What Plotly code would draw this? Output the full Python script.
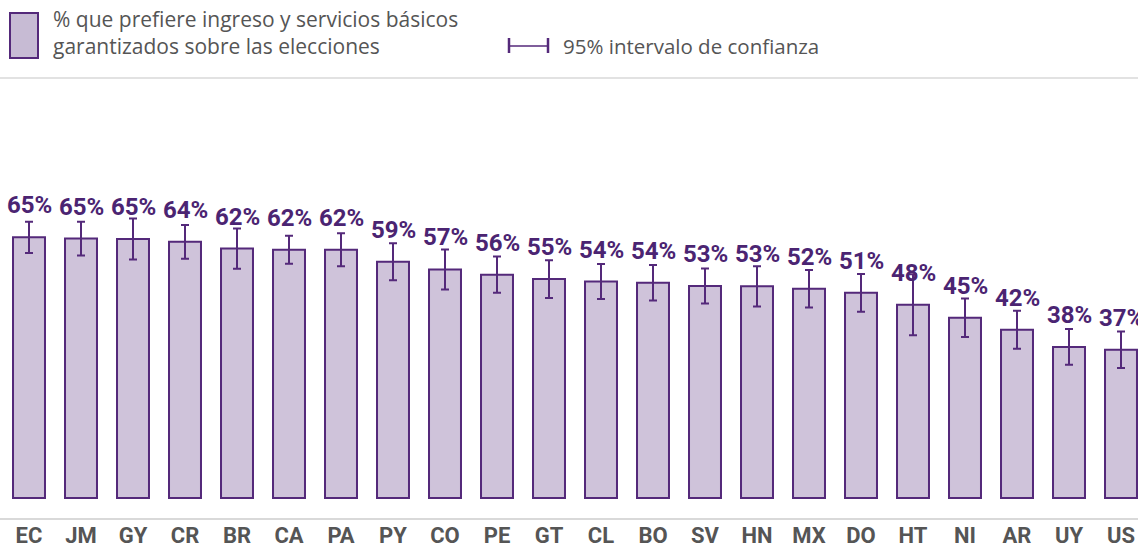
import plotly.graph_objects as go

countries = ["EC", "JM", "GY", "CR", "BR", "CA", "PA", "PY", "CO", "PE", "GT",
             "CL", "BO", "SV", "HN", "MX", "DO", "HT", "NI", "AR", "UY", "US"]
values = [64.9, 64.6, 64.5, 63.8, 62.1, 61.8, 61.8, 58.8, 56.9, 55.6, 54.5,
          53.9, 53.6, 52.8, 52.7, 52.1, 51.1, 48.1, 44.9, 41.9, 37.6, 36.9]
errors = [3.9, 4.2, 5.1, 4.2, 5.0, 3.5, 4.1, 4.6, 5.0, 4.5, 4.7,
          4.35, 4.4, 4.35, 5.0, 4.65, 4.7, 7.6, 4.8, 4.75, 4.45, 4.55]
labels = ["65%", "65%", "65%", "64%", "62%", "62%", "62%", "59%", "57%", "56%", "55%",
          "54%", "54%", "53%", "53%", "52%", "51%", "48%", "45%", "42%", "38%", "37%"]

W, H = 1138, 545
T, B = 78, 518  # plot area top / bottom in px
PURPLE = "#54297a"
LABEL = "#4b2472"
FILL = "#cfc3da"
GRAY = "#555555"

def py(px):
    return (B - px) / (B - T)

def pxx(px):
    return px / W

fig = go.Figure()
fig.add_trace(go.Bar(
    x=list(range(len(countries))), y=values, width=0.615,
    marker=dict(color=FILL, line=dict(color=PURPLE, width=2)),
    error_y=dict(type="data", array=errors, visible=True, color=PURPLE,
                 thickness=2, width=4),
    showlegend=False, hoverinfo="skip",
))

for i, (v, lab) in enumerate(zip(values, labels)):
    fig.add_annotation(x=i, y=v, text=lab, showarrow=False, yshift=32,
                       yanchor="middle", xanchor="center",
                       font=dict(family="Roboto", size=24, color=LABEL, weight="bold"))

shapes = [
    dict(type="line", xref="paper", yref="paper", x0=0, x1=1, y0=py(78), y1=py(78),
         line=dict(color="#d9d9d9", width=1.5)),
    dict(type="rect", xref="paper", yref="paper", x0=pxx(10), x1=pxx(38),
         y0=py(58), y1=py(13), fillcolor="#c7bbd4", line=dict(color=PURPLE, width=2)),
    dict(type="line", xref="paper", yref="paper", x0=pxx(509), x1=pxx(548),
         y0=py(46), y1=py(46), line=dict(color=PURPLE, width=1.5)),
    dict(type="line", xref="paper", yref="paper", x0=pxx(509), x1=pxx(509),
         y0=py(38), y1=py(53), line=dict(color=PURPLE, width=2.5)),
    dict(type="line", xref="paper", yref="paper", x0=pxx(548), x1=pxx(548),
         y0=py(38), y1=py(53), line=dict(color=PURPLE, width=2.5)),
]
fig.update_layout(shapes=shapes)

fig.add_annotation(xref="paper", yref="paper", x=pxx(51), y=py(33), xanchor="left",
                   yanchor="middle", showarrow=False, align="left",
                   text="% que prefiere ingreso y servicios básicos<br>garantizados sobre las elecciones",
                   font=dict(family="Open Sans", size=21, color=GRAY))
fig.add_annotation(xref="paper", yref="paper", x=pxx(561), y=py(46), xanchor="left",
                   yanchor="middle", showarrow=False,
                   text="95% intervalo de confianza",
                   font=dict(family="Open Sans", size=20.5, color=GRAY))

x0 = -29 / 52
fig.update_layout(
    width=W, height=H,
    margin=dict(l=0, r=0, t=T, b=H - B, pad=0),
    paper_bgcolor="white", plot_bgcolor="white",
    xaxis=dict(range=[x0, x0 + W / 52], tickmode="array",
               tickvals=list(range(len(countries))), ticktext=countries,
               showgrid=False, zeroline=False, showline=True,
               linecolor="#d9d9d9", linewidth=1.5, ticks="", automargin=False,
               ticklabelstandoff=-3,
               tickfont=dict(family="Roboto", size=22, color=GRAY, weight="bold")),
    yaxis=dict(range=[-5, -5 + (B - T) / 4.015], visible=False, showgrid=False,
               zeroline=False, automargin=False),
    bargap=0.385,
)

fig.write_html("out.html", config={"displayModeBar": False},
               post_script="document.body.style.margin='0';document.body.style.overflow='hidden';")
